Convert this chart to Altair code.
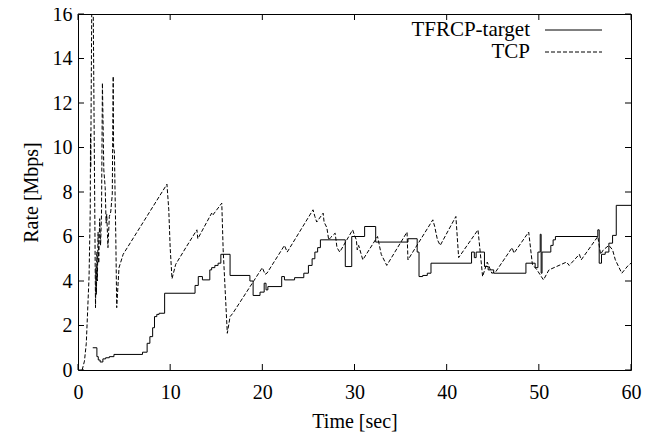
import altair as alt
import pandas as pd

series_names = ["TFRCP-target", "TCP"]

# TFRCP-target: step changes (time [s], rate [Mbps]) held until next time
tfrcp_t = [1.6, 2.05, 2.2, 2.4, 2.7, 3.0, 3.4, 3.9, 7.0, 7.5, 7.8, 8.1, 8.3, 8.55, 8.8, 9.4,
           12.7, 13.05, 13.5, 14.3, 14.5, 14.85, 15.2, 15.5, 16.5, 18.65, 19.0, 19.75, 20.2,
           20.4, 20.6, 22.1, 22.4, 23.5, 24.5, 25.0, 25.4, 25.7, 26.0, 26.3, 29.0, 29.7,
           31.1, 32.3, 35.8, 36.8, 37.0, 37.4, 37.9, 38.3, 42.7, 43.0, 43.2, 44.1, 44.5,
           45.1, 48.6, 49.6, 49.9, 50.15, 50.25, 50.35, 51.3, 51.55, 51.8, 56.4, 56.55,
           56.8, 57.2, 57.6, 58.0, 58.4, 60.0]
tfrcp_r = [1.0, 0.6, 0.45, 0.36, 0.5, 0.55, 0.6, 0.7, 0.8, 1.2, 1.5, 1.9, 2.4, 2.5, 2.55, 3.45,
           3.8, 4.2, 4.05, 4.5, 4.6, 4.7, 4.8, 5.2, 4.25, 4.0, 3.35, 3.5, 3.9,
           3.6, 3.75, 4.2, 4.05, 4.15, 4.35, 4.7, 5.0, 5.3, 5.5, 5.85, 4.65, 6.0,
           6.45, 5.75, 5.9, 5.3, 4.2, 4.25, 4.35, 4.8, 5.3, 5.05, 5.3, 4.65, 4.5,
           4.35, 4.8, 4.6, 5.3, 6.1, 4.35, 5.3, 5.6, 5.85, 6.0, 6.3, 4.8,
           5.2, 5.3, 5.7, 6.05, 7.4, 7.4]

# TCP: sawtooth samples (time [s], rate [Mbps])
tcp_t = [0.45, 0.7, 0.9, 1.05, 1.2, 1.33, 1.36, 1.38, 1.52, 1.62, 1.9, 1.95, 2.0, 2.05, 2.1,
         2.18, 2.25, 2.35, 2.45, 2.55, 2.65, 2.8, 2.95, 3.05, 3.12, 3.25, 3.4, 3.55, 3.72,
         3.82, 3.86, 3.95, 4.02, 4.1, 4.2, 4.45, 4.9, 9.65, 9.85, 10.0, 10.2, 10.6, 11.7,
         12.9, 13.0, 14.5, 14.6, 15.6, 15.75, 16.2, 16.5, 16.8, 20.0, 20.3, 20.5, 22.1,
         22.4, 22.7, 25.5, 25.7, 25.9, 26.6, 26.7, 27.0, 27.2, 27.4, 27.9, 28.1, 28.4,
         29.8, 30.0, 30.2, 30.3, 30.45, 30.9, 32.5, 32.9, 33.5, 35.7, 35.8, 38.5, 38.7,
         39.0, 39.3, 41.0, 41.3, 43.4, 43.9, 44.4, 44.9, 45.3, 47.1, 47.3, 48.9, 49.3,
         49.8, 50.5, 51.1, 53.0, 53.3, 54.4, 54.6, 56.4, 56.7, 57.0, 57.6, 58.0, 58.3,
         59.0, 59.7, 60.0]
tcp_r = [0.0, 0.4, 1.2, 2.7, 4.2, 7.2, 10.6, 9.1, 18.0, 18.0, 2.8, 4.6, 3.4, 5.3, 4.0,
         6.2, 4.8, 6.8, 5.6, 7.0, 12.9, 9.0, 8.2, 6.6, 7.0, 5.5, 6.9, 7.1, 7.9,
         13.2, 10.0, 9.8, 8.0, 6.0, 2.8, 4.6, 5.2, 8.35, 7.2, 5.5, 4.1, 4.75, 5.5,
         6.3, 5.9, 7.05, 6.95, 7.5, 5.4, 1.65, 2.4, 2.55, 4.6, 4.3, 4.35, 5.4,
         5.6, 5.3, 7.2, 6.9, 6.65, 7.05, 6.65, 6.4, 5.85, 5.95, 6.15, 5.5, 5.3,
         6.3, 6.05, 5.85, 5.4, 5.6, 4.95, 6.0, 5.2, 4.7, 6.2, 4.95, 6.75, 6.45,
         5.85, 5.6, 6.9, 5.05, 6.3, 4.2, 4.85, 4.35, 4.4, 5.5, 5.25, 6.2, 4.75,
         4.5, 4.05, 4.5, 4.85, 4.7, 5.2, 4.95, 6.0, 5.2, 5.4, 5.6, 5.4, 4.95,
         4.35, 4.7, 4.8]

x_ticks = [0, 10, 20, 30, 40, 50, 60]
y_ticks = [0, 2, 4, 6, 8, 10, 12, 14, 16]

FONT = "Liberation Serif"
FS = 20
LFS = 21
W, H = 553, 356

tfrcp_df = pd.DataFrame({"time": tfrcp_t, "rate": tfrcp_r})
tcp_df = pd.DataFrame({"time": tcp_t, "rate": tcp_r})

xs = alt.Scale(domain=[0, 60], nice=False, zero=False)
ys = alt.Scale(domain=[0, 16], nice=False)

x_axis = alt.Axis(values=x_ticks, title="Time [sec]", ticks=False, domain=False, grid=False,
                  labelPadding=12, titlePadding=9, labelFlush=False)
y_axis = alt.Axis(values=y_ticks, title="Rate [Mbps]", ticks=False, domain=False, grid=False,
                  labelPadding=6, titlePadding=11)

tfrcp_line = alt.Chart(tfrcp_df).mark_line(
    interpolate="step-after", color="black", strokeWidth=1, clip=True
).encode(
    x=alt.X("time:Q", scale=xs, axis=x_axis),
    y=alt.Y("rate:Q", scale=ys, axis=y_axis),
)

tcp_line = alt.Chart(tcp_df).mark_line(
    color="black", strokeWidth=1, strokeDash=[4, 2], clip=True
).encode(
    x=alt.X("time:Q", scale=xs),
    y=alt.Y("rate:Q", scale=ys),
)

xt_df = pd.DataFrame({"time": x_ticks})
yt_df = pd.DataFrame({"rate": y_ticks})
tick_len = 6

xt_bottom = alt.Chart(xt_df).mark_rule(color="black", strokeWidth=1).encode(
    x=alt.X("time:Q", scale=xs), y=alt.value(H), y2=alt.value(H - tick_len))
xt_top = alt.Chart(xt_df).mark_rule(color="black", strokeWidth=1).encode(
    x=alt.X("time:Q", scale=xs), y=alt.value(0), y2=alt.value(tick_len))
yt_left = alt.Chart(yt_df).mark_rule(color="black", strokeWidth=1).encode(
    y=alt.Y("rate:Q", scale=ys), x=alt.value(0), x2=alt.value(tick_len))
yt_right = alt.Chart(yt_df).mark_rule(color="black", strokeWidth=1).encode(
    y=alt.Y("rate:Q", scale=ys), x=alt.value(W), x2=alt.value(W - tick_len))

# legend (inside, top right)
leg_text_x = 452
leg_line_x1, leg_line_x2 = 467, 524
leg_rows = [16, 38]
legend_layers = []
for i, name in enumerate(series_names):
    ldf = pd.DataFrame({"name": [name]})
    legend_layers.append(
        alt.Chart(ldf).mark_text(align="right", baseline="middle", font=FONT, fontSize=LFS,
                                 color="black").encode(
            text="name:N", x=alt.value(leg_text_x), y=alt.value(leg_rows[i])))
    rule_kwargs = dict(color="black", strokeWidth=1)
    if i == 1:
        rule_kwargs["strokeDash"] = [4, 2]
    legend_layers.append(
        alt.Chart(ldf).mark_rule(**rule_kwargs).encode(
            x=alt.value(leg_line_x1), x2=alt.value(leg_line_x2), y=alt.value(leg_rows[i])))

chart = alt.layer(
    tfrcp_line, tcp_line, xt_bottom, xt_top, yt_left, yt_right, *legend_layers
).properties(
    width=W, height=H,
    padding={"left": 70, "top": 6, "right": 14, "bottom": 63},
    autosize=alt.AutoSizeParams(type="none"),
    background="white",
).configure_view(
    stroke="black", strokeWidth=1
).configure_axis(
    labelFont=FONT, labelFontSize=FS, labelColor="black",
    titleFont=FONT, titleFontSize=FS, titleColor="black", titleFontWeight="normal",
)

chart.save("out.html", embed_options={"renderer": "svg", "actions": False})
